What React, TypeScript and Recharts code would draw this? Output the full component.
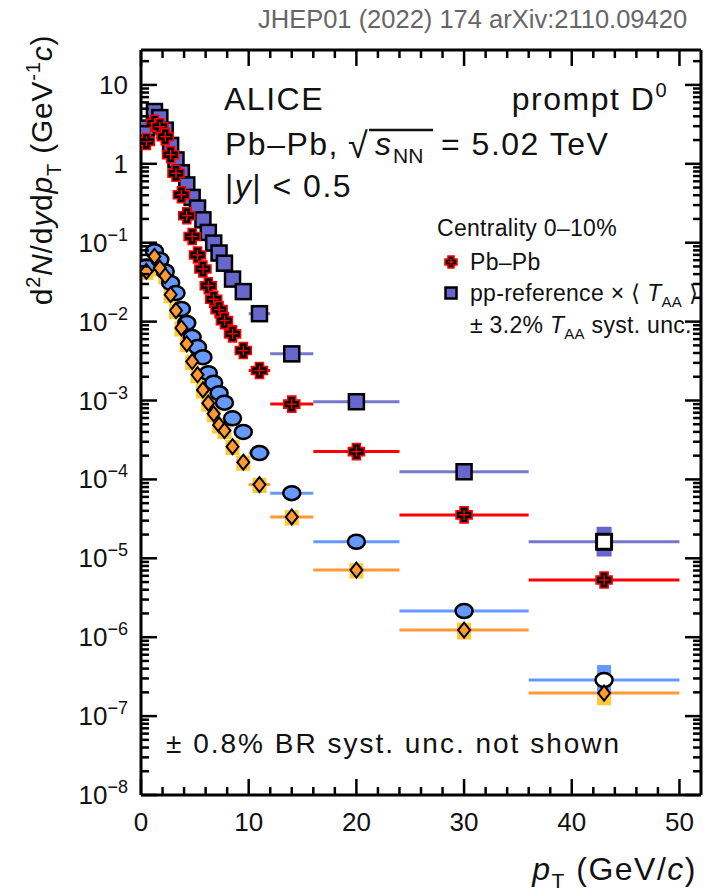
import React from 'react';
import { ComposedChart, Scatter, XAxis, YAxis, ErrorBar } from 'recharts';

// pT bins (GeV/c)
const ptCenters = [0.5, 1.25, 1.75, 2.25, 2.75, 3.25, 3.75, 4.25, 4.75, 5.25, 5.75, 6.25, 6.75, 7.25, 7.75, 8.5, 9.5, 11, 14, 20, 30, 43];
const ptHalfWidths = [0.5, 0.25, 0.25, 0.25, 0.25, 0.25, 0.25, 0.25, 0.25, 0.25, 0.25, 0.25, 0.25, 0.25, 0.25, 0.5, 0.5, 1, 2, 4, 6, 7];

// 0-10%
const pbpb010 = [1.92, 3.27, 2.95, 2.21, 1.3, 0.76, 0.405, 0.22, 0.12, 0.07, 0.0465, 0.0285, 0.0192, 0.0142, 0.0103, 0.007, 0.0043, 0.0024, 9.0e-4, 2.25e-4, 3.55e-5, 5.3e-6];
const ppRef010 = [2.84, 4.6, 3.85, 2.67, 1.71, 1.12, 0.77, 0.54, 0.375, 0.275, 0.195, 0.135, 0.099, 0.074, 0.055, 0.0346, 0.024, 0.0126, 3.9e-3, 9.65e-4, 1.25e-4, 1.62e-5];
// 30-50%
const ppRef3050 = [0.05, 0.078, 0.061, 0.0433, 0.0309, 0.023, 0.0145, 0.0096, 0.00636, 0.00475, 0.00354, 0.00222, 0.00168, 0.00124, 9.4e-4, 5.95e-4, 4.0e-4, 2.16e-4, 6.7e-5, 1.62e-5, 2.15e-6, 2.87e-7];
const pbpb3050 = [0.0433, 0.067, 0.0478, 0.0381, 0.0219, 0.0138, 0.0083, 0.00523, 0.00312, 0.00212, 0.00136, 9.25e-4, 6.77e-4, 4.9e-4, 4.16e-4, 2.6e-4, 1.65e-4, 8.6e-5, 3.34e-5, 7.1e-6, 1.23e-6, 1.96e-7];

// relative syst. uncertainties
const pbpb3050Syst = [0.22, 0.22, 0.22, 0.22, 0.22, 0.22, 0.22, 0.22, 0.22, 0.22, 0.22, 0.22, 0.22, 0.22, 0.22, 0.22, 0.22, 0.22, 0.22, 0.22, 0.24, 0.3];
const ppExtrapSyst: [number, number] = [0.35, 0.55];
const ppExtrapFrom = 36; // pp reference extrapolated above this pT

const xMajorTicks = [0, 10, 20, 30, 40, 50];
const xTicks = Array.from({ length: 26 }, (_, i) => i * 2);
const yDecades = [-8, -7, -6, -5, -4, -3, -2, -1, 0, 1];
const yTicks: number[] = [];
yDecades.forEach((e) => {
  for (let k = 1; k <= 9; k++) {
    const v = k * Math.pow(10, e);
    if (v <= 27.7) yTicks.push(v);
  }
});

const FONT = "'Liberation Sans', Arial, Helvetica, sans-serif";

const build = (vals: number[], syst?: number[] | null, open?: boolean) =>
  ptCenters.map((x, i) => {
    const y = vals[i];
    const isOpen = !!open && x > ppExtrapFrom;
    let ey: [number, number] = [0, 0];
    if (syst) ey = [y * syst[i], y * syst[i]];
    if (isOpen) ey = [y * ppExtrapSyst[0], y * ppExtrapSyst[1]];
    return { x, y, ex: ptHalfWidths[i], ey, open: isOpen };
  });

const dPbPb010 = build(pbpb010);
const dPp010 = build(ppRef010, null, true);
const dPp3050 = build(ppRef3050, null, true);
const dPbPb3050 = build(pbpb3050, pbpb3050Syst);

const Cross = ({ cx, cy, s = 8, w = 4 }: any) => {
  if (cx == null || cy == null) return <g />;
  const p = [[-w, -s], [w, -s], [w, -w], [s, -w], [s, w], [w, w], [w, s], [-w, s], [-w, w], [-s, w], [-s, -w], [-w, -w]]
    .map(([a, b]) => `${cx + a},${cy + b}`).join(' ');
  return (
    <g>
      <polygon points={p} fill="#000" stroke="#ff0000" strokeWidth={1.6} />
      <line x1={cx - s + 3} x2={cx + s - 3} y1={cy} y2={cy} stroke="#ff0000" strokeWidth={1.4} />
      <line x1={cx} x2={cx} y1={cy - s + 3} y2={cy + s - 3} stroke="#ff0000" strokeWidth={1.4} />
    </g>
  );
};

const Square = ({ cx, cy, payload, h = 7.5 }: any) => {
  if (cx == null || cy == null) return <g />;
  const open = payload && payload.open;
  return <rect x={cx - h} y={cy - h} width={2 * h} height={2 * h} fill={open ? '#fff' : '#6666cc'} stroke="#000" strokeWidth={open ? 3 : 2.5} />;
};

const Circle = ({ cx, cy, payload }: any) => {
  if (cx == null || cy == null) return <g />;
  const open = payload && payload.open;
  return <ellipse cx={cx} cy={cy} rx={8.5} ry={7} fill={open ? '#fff' : '#6699ff'} stroke="#000" strokeWidth={2.5} />;
};

const Diamond = ({ cx, cy }: any) => {
  if (cx == null || cy == null) return <g />;
  return <polygon points={`${cx},${cy - 7.5} ${cx + 6},${cy} ${cx},${cy + 7.5} ${cx - 6},${cy}`} fill="#ff9933" stroke="#000" strokeWidth={2} />;
};

const NoMark = () => <g />;

const XTickBottom = ({ x, y, payload }: any) => {
  const v = payload.value;
  const major = xMajorTicks.includes(v);
  return (
    <g>
      <line x1={x} x2={x} y1={y} y2={y - (major ? 16 : 8)} stroke="#000" strokeWidth={2.5} />
      {major && (
        <text x={x} y={y + 36} textAnchor="middle" fontSize={26} fontFamily={FONT} fill="#111">{v}</text>
      )}
    </g>
  );
};

const XTickTop = ({ x, y, payload }: any) => {
  const major = xMajorTicks.includes(payload.value);
  return <line x1={x} x2={x} y1={y} y2={y + (major ? 16 : 8)} stroke="#000" strokeWidth={2.5} />;
};

const isDecade = (v: number) => Math.abs(Math.log10(v) - Math.round(Math.log10(v))) < 1e-6;

const YTickLeft = ({ x, y, payload }: any) => {
  const v = payload.value;
  const major = isDecade(v);
  const e = Math.round(Math.log10(v));
  return (
    <g>
      <line x1={x} x2={x + (major ? 16 : 8)} y1={y} y2={y} stroke="#000" strokeWidth={2.5} />
      {major && (
        <text x={x - 13} y={y + 9} textAnchor="end" fontSize={26} fontFamily={FONT} fill="#111">
          {e === 0 ? '1' : '10'}
          {e < 0 && <tspan dy={-11} fontSize={18}>{`\u2212${-e}`}</tspan>}
        </text>
      )}
    </g>
  );
};

const YTickRight = ({ x, y, payload }: any) => {
  const major = isDecade(payload.value);
  return <line x1={x} x2={x - (major ? 16 : 8)} y1={y} y2={y} stroke="#000" strokeWidth={2.5} />;
};

const axisLine = { stroke: '#000', strokeWidth: 3 };

const big = { fontSize: 32, letterSpacing: 1.5, fill: '#111' };
const leg = { fontSize: 23, letterSpacing: 0.3, fill: '#111' };

const Overlay = () => (
  <svg width={709} height={896} style={{ position: 'absolute', left: 0, top: 0, pointerEvents: 'none' }} fontFamily={FONT}>
    <text x={258} y={28} fontSize={25.5} fill="#666">JHEP01 (2022) 174 arXiv:2110.09420</text>

    <text x={224} y={110} {...big}>ALICE</text>
    <text x={668} y={110} {...big} textAnchor="end">
      prompt D<tspan dy={-13} fontSize={20}>0</tspan>
    </text>
    <text x={225} y={155} {...big}>Pb–Pb,</text>
    <text x={348} y={158} fontSize={36} fill="#111">√</text>
    <line x1={369} x2={433} y1={130} y2={130} stroke="#111" strokeWidth={2.5} />
    <text x={375} y={155} {...big} fontStyle="italic">s</text>
    <text x={393} y={163} fontSize={21} fill="#111">NN</text>
    <text x={441} y={155} {...big}>= 5.02 TeV</text>
    <text x={225} y={197} {...big}>
      |<tspan fontStyle="italic">y</tspan>| &lt; 0.5
    </text>

    <text x={437} y={236} {...leg}>Centrality 0–10%</text>
    <Cross cx={451} cy={262} s={6} w={3} />
    <text x={470} y={270} {...leg}>Pb–Pb</text>
    <Square cx={451} cy={293} h={5.5} />
    <text x={470} y={301} {...leg}>
      pp-reference × ⟨ <tspan fontStyle="italic">T</tspan>
      <tspan dy={6} fontSize={15}>AA</tspan>
      <tspan dy={-6}> ⟩</tspan>
    </text>
    <text x={470} y={333} {...leg}>
      ± 3.2% <tspan fontStyle="italic">T</tspan>
      <tspan dy={6} fontSize={15}>AA</tspan>
      <tspan dy={-6}> syst. unc.</tspan>
    </text>

    <text x={166} y={753} fontSize={28} letterSpacing={2} fill="#111">± 0.8% BR syst. unc. not shown</text>

    <text transform="translate(52,170) rotate(-90)" textAnchor="middle" fontSize={30} letterSpacing={0.8} fill="#111">
      d<tspan dy={-12} fontSize={20}>2</tspan>
      <tspan dy={12} fontStyle="italic">N</tspan>/d<tspan fontStyle="italic">y</tspan>d<tspan fontStyle="italic">p</tspan>
      <tspan dy={9} fontSize={20}>T</tspan>
      <tspan dy={-9}>{'  (GeV'}</tspan>
      <tspan dy={-12} fontSize={20}>-1</tspan>
      <tspan dy={12} fontStyle="italic">c</tspan>)
    </text>
    <text x={697} y={880} textAnchor="end" {...big}>
      <tspan fontStyle="italic">p</tspan>
      <tspan dy={8} fontSize={21}>T</tspan>
      <tspan dy={-8}>{' (GeV/'}</tspan>
      <tspan fontStyle="italic">c</tspan>)
    </text>
  </svg>
);

export default function App() {
  return (
    <div style={{ position: 'absolute', left: 0, top: 0, width: 709, height: 896, background: '#fff' }}>
      <ComposedChart width={709} height={896} margin={{ top: 49, right: 7, bottom: 100, left: 140 }}>
        <XAxis dataKey="x" type="number" domain={[0, 52]} allowDataOverflow ticks={xTicks} interval={0}
          height={1} tickSize={0} tickMargin={0} tickLine={false} axisLine={axisLine}
          tick={(p: any) => <XTickBottom {...p} />} />
        <XAxis xAxisId="t" orientation="top" dataKey="x" type="number" domain={[0, 52]} allowDataOverflow ticks={xTicks} interval={0}
          height={1} tickSize={0} tickMargin={0} tickLine={false} axisLine={axisLine}
          tick={(p: any) => <XTickTop {...p} />} />
        <YAxis dataKey="y" type="number" scale="log" domain={[1e-8, 27.7]} allowDataOverflow ticks={yTicks} interval={0}
          width={1} tickSize={0} tickMargin={0} tickLine={false} axisLine={axisLine}
          tick={(p: any) => <YTickLeft {...p} />} />
        <YAxis yAxisId="r" orientation="right" dataKey="y" type="number" scale="log" domain={[1e-8, 27.7]} allowDataOverflow ticks={yTicks} interval={0}
          width={1} tickSize={0} tickMargin={0} tickLine={false} axisLine={axisLine}
          tick={(p: any) => <YTickRight {...p} />} />

        {/* 30-50% Pb-Pb syst. boxes and bin widths */}
        <Scatter data={dPbPb3050} isAnimationActive={false} shape={NoMark}>
          <ErrorBar dataKey="ey" direction="y" width={0} stroke="#ffc933" strokeWidth={14} />
          <ErrorBar dataKey="ex" direction="x" width={0} stroke="#ff9933" strokeWidth={3} />
        </Scatter>
        {/* 30-50% pp reference */}
        <Scatter data={dPp3050} isAnimationActive={false} shape={(p: any) => <Circle {...p} />}>
          <ErrorBar dataKey="ey" direction="y" width={0} stroke="#6699ff" strokeWidth={14} />
          <ErrorBar dataKey="ex" direction="x" width={0} stroke="#6699ff" strokeWidth={3} />
        </Scatter>
        <Scatter data={dPbPb3050} isAnimationActive={false} shape={(p: any) => <Diamond {...p} />} />
        {/* 0-10% pp reference */}
        <Scatter data={dPp010} isAnimationActive={false} shape={(p: any) => <Square {...p} />}>
          <ErrorBar dataKey="ey" direction="y" width={0} stroke="#6666cc" strokeWidth={15} />
          <ErrorBar dataKey="ex" direction="x" width={0} stroke="#7777cc" strokeWidth={3} />
        </Scatter>
        {/* 0-10% Pb-Pb */}
        <Scatter data={dPbPb010} isAnimationActive={false} shape={(p: any) => <Cross {...p} />}>
          <ErrorBar dataKey="ex" direction="x" width={0} stroke="#ff0000" strokeWidth={3} />
        </Scatter>
      </ComposedChart>
      <Overlay />
    </div>
  );
}
